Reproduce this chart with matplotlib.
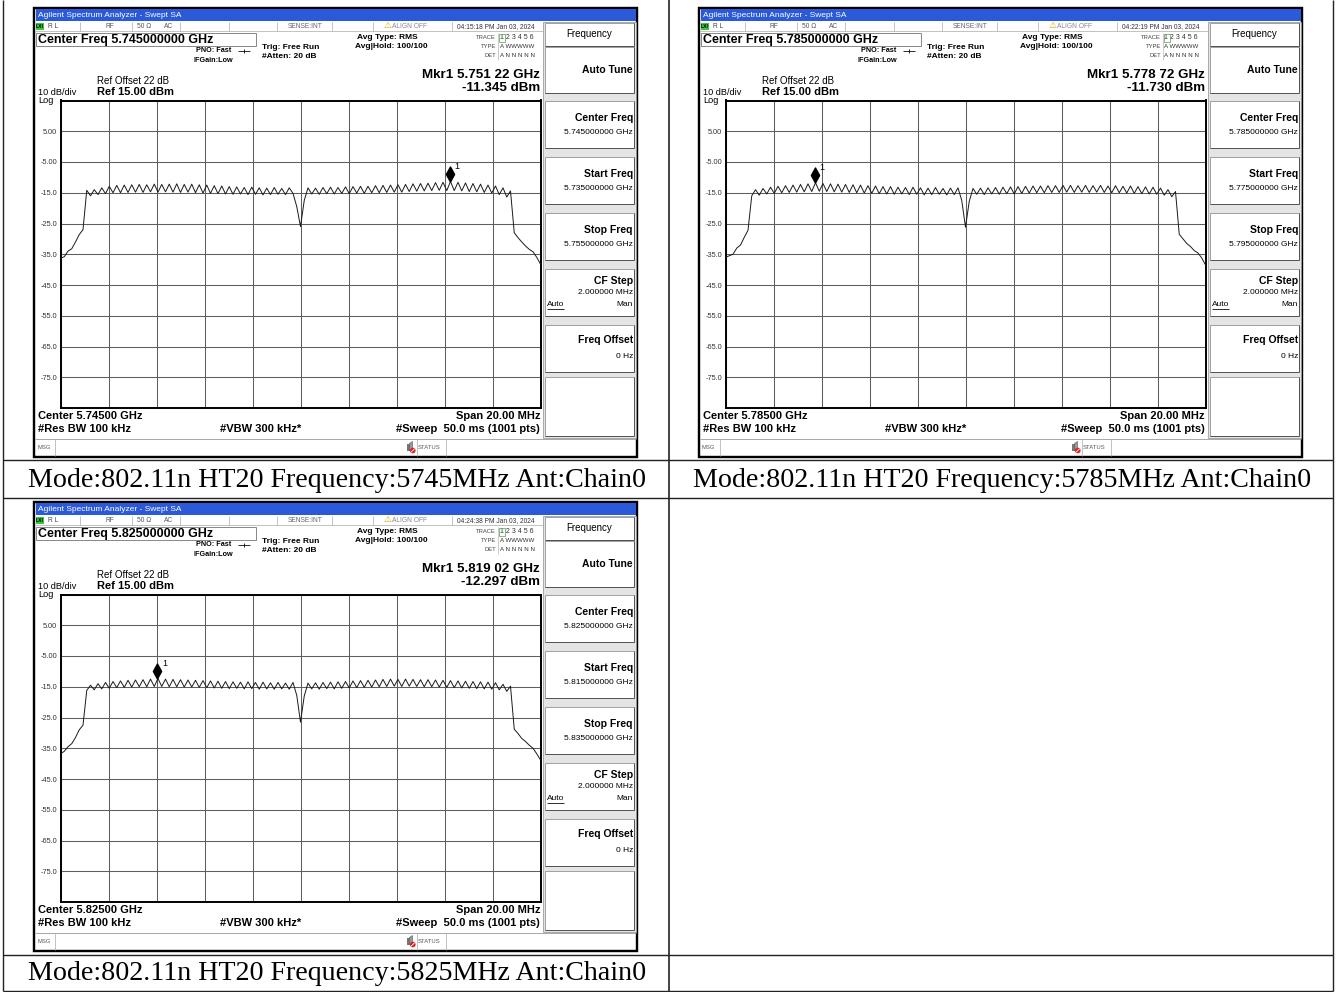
import numpy as np
import matplotlib
matplotlib.use('Agg')
import matplotlib.pyplot as plt
from matplotlib.patches import Rectangle, Polygon, Circle
from matplotlib.transforms import offset_copy

W, H = 1336, 992
UI = ['Liberation Sans', 'DejaVu Sans']
SERIF = ['Liberation Serif', 'DejaVu Serif']

# ---------------- data ----------------
center_freq_ghz = [5.745, 5.785, 5.825]
span_mhz = 20.0
marker_freq_ghz = [5.75122, 5.77872, 5.81902]
marker_level_dbm = [-11.345, -11.730, -12.297]
timestamps = ["04:15:18 PM Jan 03, 2024", "04:22:19 PM Jan 03, 2024", "04:24:38 PM Jan 03, 2024"]
captions = ["Mode:802.11n HT20 Frequency:5745MHz Ant:Chain0",
            "Mode:802.11n HT20 Frequency:5785MHz Ant:Chain0",
            "Mode:802.11n HT20 Frequency:5825MHz Ant:Chain0"]
ref_level_dbm = 15.0
ref_offset_db = 22
db_per_div = 10
ytick_values = [5, -5, -15, -25, -35, -45, -55, -65, -75]
ytick_labels = ['5.00', '-5.00', '-15.0', '-25.0', '-35.0', '-45.0', '-55.0', '-65.0', '-75.0']

# trace levels (dBm), evenly spaced across the 20 MHz span
trace_5745 = [
    -36.3, -35.8, -34.0, -33.2, -31.0, -28.6, -27.0,
    -14.2, -16.0, -14.0, -15.6, -13.4, -15.3, -12.9, -15.0, -12.6, -15.0,
    -12.5, -14.9, -12.4, -14.8, -12.3, -14.9, -12.4, -14.7, -12.2, -14.8,
    -12.3, -14.7, -12.2, -14.8, -12.1, -14.9, -12.3, -14.8, -12.2, -15.0,
    -12.4, -15.1, -12.5, -15.2, -12.7, -15.3, -12.8, -15.4, -13.0, -15.5,
    -13.1, -15.4, -13.3, -15.6, -13.2, -15.5, -13.4, -15.7, -13.5, -15.6,
    -13.3, -15.5, -13.6, -15.6, -13.4,
    -15.2, -19.5, -26.0, -17.5,
    -13.4, -15.4, -13.5, -15.5, -13.3, -15.3, -13.2, -15.4, -13.3, -15.2,
    -13.1, -15.3, -13.0, -15.1, -12.9, -15.2, -12.9, -15.0, -12.7, -15.0,
    -12.6, -14.9, -12.5, -14.8, -12.4, -14.8, -12.3, -14.6, -12.1, -14.5,
    -12.0, -14.4, -11.9, -14.3, -11.7, -14.2, -11.6, -14.3, -11.35, -14.3,
    -11.6, -14.4, -11.8, -14.6, -12.0, -14.7, -12.2, -14.9, -12.5, -15.1,
    -12.8, -15.6, -13.4, -16.4, -14.4,
    -28.0, -29.6, -31.0, -32.3, -33.4, -34.2, -36.0, -38.2]

trace_5785 = [
    -36.0, -35.5, -35.0, -33.0, -32.0, -29.5, -27.2,
    -16.0, -14.0, -15.8, -13.6, -15.4, -13.2, -15.2, -12.9, -15.0, -12.7,
    -14.9, -12.5, -14.8, -12.3, -14.7, -12.1, -14.6, -11.73, -14.5, -12.0,
    -14.6, -12.1, -14.7, -12.2, -14.8, -12.3, -14.9, -12.4, -15.0, -12.5,
    -15.1, -12.7, -15.2, -12.8, -15.3, -13.0, -15.4, -13.0, -15.5, -13.2,
    -15.4, -13.3, -15.6, -13.2, -15.5, -13.4, -15.7, -13.5, -15.6, -13.3,
    -15.5, -13.6, -15.7, -13.5, -15.6, -13.4,
    -17.5, -26.2, -17.8,
    -13.6, -15.5, -13.5, -15.6, -13.4, -15.4, -13.3, -15.5, -13.2, -15.3,
    -13.1, -15.4, -13.0, -15.2, -12.9, -15.1, -12.8, -15.0, -12.8, -15.0,
    -12.7, -14.9, -12.7, -14.9, -12.6, -14.8, -12.6, -14.9, -12.7, -14.8,
    -12.6, -14.9, -12.7, -14.8, -12.6, -14.9, -12.8, -15.0, -12.7, -15.0,
    -12.9, -15.1, -12.8, -15.2, -13.0, -15.3, -13.1, -15.4, -13.2, -15.5,
    -13.5, -15.8, -14.0, -16.3, -14.6,
    -28.5, -30.0, -31.5, -32.5, -33.8, -34.6, -36.2, -38.5]

trace_5825 = [
    -36.8, -36.0, -34.5, -33.5, -31.5, -29.0, -27.5,
    -16.2, -14.5, -16.0, -14.0, -15.7, -13.6, -15.5, -13.3, -15.3, -13.1,
    -15.2, -12.9, -15.1, -12.8, -15.0, -12.7, -15.0, -12.5, -14.9, -12.3,
    -14.9, -12.5, -15.0, -12.6, -15.0, -12.7, -15.1, -12.8, -15.1, -12.9,
    -15.2, -13.0, -15.3, -13.1, -15.4, -13.2, -15.5, -13.3, -15.6, -13.4,
    -15.5, -13.5, -15.7, -13.4, -15.6, -13.6, -15.8, -13.5, -15.7, -13.7,
    -15.8, -13.6, -15.7, -13.8, -15.8, -13.6,
    -17.8, -26.5, -18.0,
    -13.8, -15.7, -13.7, -15.8, -13.6, -15.6, -13.5, -15.7, -13.4, -15.5,
    -13.3, -15.4, -13.1, -15.3, -13.0, -15.2, -12.9, -15.1, -12.8, -15.0,
    -12.6, -14.9, -12.5, -14.8, -12.6, -14.9, -12.5, -14.8, -12.6, -14.9,
    -12.7, -15.0, -12.7, -15.0, -12.8, -15.1, -12.9, -15.2, -13.0, -15.3,
    -13.1, -15.4, -13.2, -15.5, -13.3, -15.6, -13.4, -15.7, -13.5, -15.8,
    -13.7, -16.0, -14.2, -16.5, -14.8,
    -28.8, -30.2, -31.8, -32.8, -34.0, -35.0, -36.8, -38.8]

traces = [trace_5745, trace_5785, trace_5825]

# ---------------- drawing helpers ----------------
fig = plt.figure(figsize=(W / 100, H / 100), dpi=100)
bg = fig.add_axes([0, 0, 1, 1])
bg.set_xlim(0, W)
bg.set_ylim(H, 0)
bg.axis('off')

PX = 0.72  # points per pixel


def T(x, y, s, size, weight='normal', ha='left', va='center', color='black', family=UI):
    bg.text(x, y, s, fontsize=size, fontweight=weight, ha=ha, va=va, color=color, family=family)


def R(x0, y0, x1, y1, fc='white', ec='none', lw=1.0, z=1):
    bg.add_patch(Rectangle((x0, y0), x1 - x0, y1 - y0, facecolor=fc, edgecolor=ec,
                           linewidth=lw * PX, zorder=z))


def L(x0, y0, x1, y1, color='black', lw=1.0, z=2):
    bg.plot([x0, x1], [y0, y1], color=color, lw=lw * PX, zorder=z, solid_capstyle='butt')


def draw_screen(k, dx, dy):
    cf = center_freq_ghz[k]
    start = cf - span_mhz / 2000.0
    stop = cf + span_mhz / 2000.0

    def X(x):
        return x + dx

    def Y(y):
        return y + dy

    # frame and title bar
    R(X(34), Y(8), X(637), Y(457), fc='white', ec='black', lw=2.4, z=1)
    R(X(35.5), Y(9.2), X(635.8), Y(21), fc='#2a5ad8', z=2)
    T(X(38), Y(15.3), 'Agilent Spectrum Analyzer - Swept SA', 6, color='white')

    # status row
    L(X(35), Y(31), X(543), Y(31), '#b4b4b4', 0.8)
    for xd in [80, 132, 180, 229, 277, 332, 373, 452]:
        L(X(xd), Y(21.5), X(xd), Y(31), '#b4b4b4', 0.8)
    R(X(36), Y(22.5), X(44), Y(29.5), fc='#3ec43e', z=2)
    T(X(40), Y(26.2), 'LXI', 3.6, weight='bold', ha='center')
    T(X(48), Y(26.2), 'R L', 4.8, color='#444')
    T(X(105), Y(26.2), 'RF', 4.8, color='#555')
    T(X(137), Y(26.2), '50 Ω', 4.8, color='#555')
    T(X(164), Y(26.2), 'AC', 4.8, color='#555')
    T(X(288), Y(26.2), 'SENSE:INT', 4.8, color='#666')
    T(X(384), Y(25.8), '⚠', 6.5, color='#d8a800', family=['DejaVu Sans'])
    T(X(392), Y(26.2), 'ALIGN OFF', 4.8, color='#888')
    T(X(457), Y(26.2), timestamps[k], 4.8, color='#333')

    # centre frequency box and settings
    R(X(35.5), Y(32.5), X(256), Y(45.5), fc='white', ec='#8a8a8a', lw=1.0, z=2)
    T(X(38), Y(39.5), 'Center Freq %.9f GHz' % cf, 9, weight='bold')
    T(X(196), Y(51), 'PNO: Fast', 5.2, weight='bold')
    L(X(238), Y(50.5), X(250), Y(50.5), 'black', 0.8)
    bg.plot([X(244)], [Y(50.5)], marker='|', ms=3, color='black', mew=0.6)
    T(X(193), Y(60), 'IFGain:Low', 5.2, weight='bold')
    T(X(262), Y(47.5), 'Trig: Free Run', 6, weight='bold')
    T(X(262), Y(57), '#Atten: 20 dB', 6, weight='bold')
    T(X(357), Y(37.5), 'Avg Type: RMS', 6, weight='bold')
    T(X(355), Y(47), 'Avg|Hold: 100/100', 6, weight='bold')
    T(X(496), Y(37.5), 'TRACE', 4.2, ha='right', color='#444')
    T(X(499.5), Y(37.8), '1 2 3 4 5 6', 5, color='#333')
    R(X(498.5), Y(33.5), X(504.5), Y(42), fc='none', ec='#66aa66', lw=0.8, z=3)
    T(X(496), Y(47), 'TYPE', 4.2, ha='right', color='#444')
    T(X(499.5), Y(47), 'A WWWWW', 4.4, color='#333')
    T(X(496), Y(55.5), 'DET', 4.2, ha='right', color='#444')
    T(X(499.5), Y(55.5), 'A N N N N N', 4.4, color='#333')
    L(X(497.5), Y(33), X(497.5), Y(60), '#c0c0c0', 0.8)

    # marker readout
    ms = '%.5f' % marker_freq_ghz[k]
    T(X(540), Y(75), 'Mkr1 %s %s GHz' % (ms[:5], ms[5:]), 9.6, weight='bold', ha='right')
    T(X(540), Y(88), '%.3f dBm' % marker_level_dbm[k], 9.6, weight='bold', ha='right')
    T(X(97), Y(81.5), 'Ref Offset %d dB' % ref_offset_db, 7)
    T(X(97), Y(92), 'Ref %.2f dBm' % ref_level_dbm, 8, weight='bold')
    T(X(38), Y(92.3), '%d dB/div' % db_per_div, 6.6)
    T(X(38), Y(100.3), 'Log', 6.6)

    # soft keys
    R(X(543), Y(21.5), X(636), Y(438), fc='#e4e4e4', ec='#9a9a9a', lw=0.8, z=1.5)

    def key(y0, y1):
        R(X(545), Y(y0), X(634), Y(y1), fc='white', ec='#9a9a9a', lw=0.9, z=2)
        L(X(545), Y(y1), X(634), Y(y1), '#555', 1.0, z=3)
        L(X(634), Y(y0), X(634), Y(y1), '#555', 1.0, z=3)

    key(23, 46)
    T(X(589.5), Y(34), 'Frequency', 7, ha='center')
    key(47, 93)
    T(X(633), Y(70), 'Auto Tune', 7.5, weight='bold', ha='right')
    key(101, 148)
    T(X(633), Y(118), 'Center Freq', 7.5, weight='bold', ha='right')
    T(X(633), Y(133), '%.9f GHz' % cf, 6, ha='right')
    key(157, 204)
    T(X(633), Y(174), 'Start Freq', 7.5, weight='bold', ha='right')
    T(X(633), Y(189), '%.9f GHz' % start, 6, ha='right')
    key(213, 260)
    T(X(633), Y(230), 'Stop Freq', 7.5, weight='bold', ha='right')
    T(X(633), Y(244.5), '%.9f GHz' % stop, 6, ha='right')
    key(269, 316)
    T(X(633), Y(281), 'CF Step', 7.5, weight='bold', ha='right')
    T(X(633), Y(293), '2.000000 MHz', 6, ha='right')
    T(X(547), Y(304), 'Auto', 6)
    L(X(547), Y(309), X(564), Y(309), 'black', 0.8, z=3)
    T(X(633), Y(304), 'Man', 6, ha='right')
    key(325, 372)
    T(X(633), Y(340), 'Freq Offset', 7.5, weight='bold', ha='right')
    T(X(633), Y(356), '0 Hz', 6, ha='right')
    key(377, 436)

    # bottom annotations
    T(X(38), Y(416), 'Center %.5f GHz' % cf, 8, weight='bold')
    T(X(38), Y(429.5), '#Res BW 100 kHz', 8, weight='bold')
    T(X(220), Y(429.5), '#VBW 300 kHz*', 8, weight='bold')
    T(X(540), Y(416), 'Span %.2f MHz' % span_mhz, 8, weight='bold', ha='right')
    T(X(540), Y(429.5), '#Sweep  50.0 ms (1001 pts)', 8, weight='bold', ha='right')

    # message bar
    L(X(35), Y(438.5), X(636), Y(438.5), '#a0a0a0', 0.9)
    L(X(55), Y(439), X(55), Y(456), '#b4b4b4', 0.8)
    L(X(416.5), Y(439), X(416.5), Y(456), '#b4b4b4', 0.8)
    L(X(445.5), Y(439), X(445.5), Y(456), '#b4b4b4', 0.8)
    T(X(37), Y(447.5), 'MSG', 4.2, color='#555')
    R(X(407), Y(443.5), X(409.5), Y(450.5), fc='#777', z=3)
    bg.add_patch(Polygon([[X(409.5), Y(443.5)], [X(412.5), Y(441.5)], [X(412.5), Y(452.5)],
                          [X(409.5), Y(450.5)]], closed=True, facecolor='#999', edgecolor='#555',
                         linewidth=0.4, zorder=3))
    bg.add_patch(Circle((X(412.8), Y(450.5)), 2.8, facecolor='#e02020', edgecolor='none', zorder=4))
    L(X(411), Y(452.3), X(414.6), Y(448.7), 'white', 0.8, z=5)
    T(X(418), Y(447.8), 'STATUS', 4.2, color='#555')

    # spectrum trace
    ax = fig.add_axes([X(60.5) / W, 1 - Y(408) / H, 480 / W, 307.5 / H])
    tr = traces[k]
    freqs = np.linspace(start, stop, len(tr))
    ax.plot(freqs, tr, color='#1a1a1a', lw=0.7, zorder=3)
    ax.set_xlim(start, stop)
    ax.set_ylim(ref_level_dbm - 10 * db_per_div, ref_level_dbm)
    ax.set_xticks(np.linspace(start, stop, 11))
    ax.set_xticklabels([])
    yt = [ref_level_dbm - db_per_div * i for i in range(11)]
    ax.set_yticks(yt)
    lab = []
    for v in yt:
        lab.append(ytick_labels[ytick_values.index(v)] if v in ytick_values else '')
    ax.set_yticklabels(lab, fontsize=5.3, color='#333', family=UI)
    ax.tick_params(length=0, pad=2.5)
    ax.grid(True, color='#5e5e5e', lw=0.75)
    for s in ax.spines.values():
        s.set_linewidth(1.4)
        s.set_color('black')
    ax.set_facecolor('white')

    diamond = [(0, -1), (0.55, 0), (0, 1), (-0.55, 0), (0, -1)]
    tr_off = offset_copy(ax.transData, fig=fig, x=0, y=7.5, units='dots')
    ax.plot([marker_freq_ghz[k]], [marker_level_dbm[k]], marker=diamond, ms=10.8,
            color='black', transform=tr_off, clip_on=False, zorder=5, ls='none')
    ax.annotate('1', (marker_freq_ghz[k], marker_level_dbm[k]), xytext=(5, 15),
                textcoords='offset pixels', fontsize=6.5, ha='left', va='center',
                family=UI, zorder=6)


# ---------------- table ----------------
tl = 1.4
L(3, 0, 3, 991, '#222', tl, z=0.5)
L(1333, 0, 1333, 991, '#222', tl, z=0.5)
L(668.5, 0, 668.5, 991, '#333', 1.8, z=0.5)
for yy in [459.5, 497.5, 954.5, 990.5]:
    L(3, yy, 1333, yy, '#222', tl, z=0.5)

offsets = [(0, 0), (665, 0), (0, 494)]
for k, (dx, dy) in enumerate(offsets):
    draw_screen(k, dx, dy)

cap_pos = [(28, 480.5), (693, 480.5), (28, 974)]
for (cx, cy), c in zip(cap_pos, captions):
    T(cx, cy, c, 20.2, family=SERIF)

fig.savefig('out.png', dpi=100)
